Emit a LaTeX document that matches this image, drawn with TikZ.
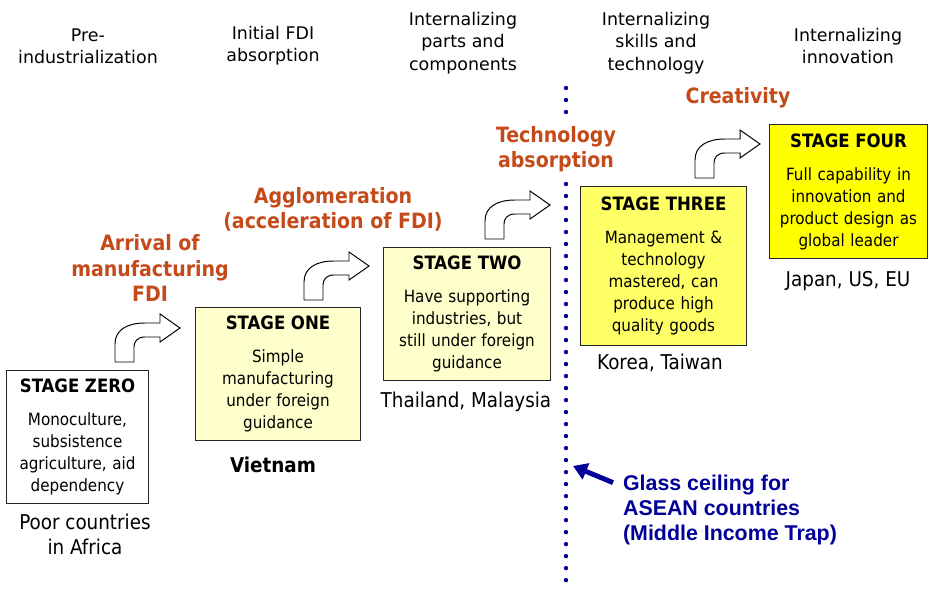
\documentclass[tikz,border=0pt]{standalone}
\usepackage{fontspec}
\usepackage{xcolor}
\setmainfont{DejaVu Sans}
\newfontfamily\tahoma{DejaVu Sans Condensed}
\newfontfamily\arialbold{Liberation Sans}
\usetikzlibrary{positioning, arrows.meta}

\definecolor{driverred}{HTML}{C44A1A}
\definecolor{ceilblue}{HTML}{000099}
\definecolor{paleyellow}{HTML}{FFFFCC}
\definecolor{midyellow}{HTML}{FFFF66}
\definecolor{fullyellow}{HTML}{FFFF00}

\newcommand\stagetitle[1]{{\fontsize{13.1}{15.6}\selectfont\bfseries #1}}

\tikzset{
    stage/.style={draw=black!85, line width=0.7pt, anchor=north west, align=center, inner sep=0pt, font=\tahoma\fontsize{12}{15.6}\selectfont},
    phase/.style={align=center, font=\fontsize{12.4}{15.8}\selectfont},
    driver/.style={align=center, text=driverred, font=\tahoma\bfseries\fontsize{15}{17.9}\selectfont},
    country/.style={align=center, font=\tahoma\fontsize{14.5}{17.7}\selectfont},
    bentarrow/.style={draw=black, fill=white, line width=0.7pt},
    ceilline/.style={draw=ceilblue, line width=0.11cm, dash pattern=on 0pt off 0.3cm, line cap=round},
    ceilarrow/.style={draw=ceilblue, line width=3.5pt, -{Triangle[length=10pt, width=12pt]}},
}

\begin{document}
\begin{tikzpicture}[x=0.025cm, y=-0.025cm]

        \def\bentpath{(0,0) -- (0,-18) .. controls (0,-32) and (12,-39) .. (30,-39) -- (45,-39) -- (45,-48) -- (65,-34) -- (45,-20) -- (45,-25) -- (30,-25) .. controls (22,-25) and (19,-20) .. (19,-15) -- (19,0) -- cycle}

        \useasboundingbox (0,0) rectangle (928,590);

        % phases along the top
        \node[phase] (ph0) at (88,46) {Pre-\\industrialization};
        \node[phase] (ph1) at (273,46) {Initial FDI\\absorption};
        \node[phase] (ph2) at (463,43) {Internalizing\\parts and\\components};
        \node[phase] (ph3) at (656,43) {Internalizing\\skills and\\technology};
        \node[phase] (ph4) at (848,46) {Internalizing\\innovation};

        % glass ceiling
        \coordinate (ceiltop) at (566,88);
        \coordinate (ceilbottom) at (566,592);
        \coordinate (ceiltip) at (573,466);
        \draw[ceilline] (ceiltop) -- (ceilbottom);

        % stages
        \node[stage, fill=white, minimum width=3.55cm, minimum height=3.325cm, text width=3.45cm] (s0) at (6,370)
            {\stagetitle{STAGE ZERO}\\[8pt]Monoculture,\\subsistence\\agriculture, aid\\dependency};
        \node[stage, fill=paleyellow, minimum width=4.125cm, minimum height=3.325cm, text width=3.95cm] (s1) at (195,307)
            {\stagetitle{STAGE ONE}\\[8pt]Simple\\manufacturing\\under foreign\\guidance};
        \node[stage, fill=paleyellow, minimum width=4.175cm, minimum height=3.325cm, text width=4cm] (s2) at (383,247)
            {\stagetitle{STAGE TWO}\\[8pt]Have supporting\\industries, but\\still under foreign\\guidance};
        \node[stage, fill=midyellow, minimum width=4.15cm, minimum height=3.975cm, text width=4cm] (s3) at (580,186)
            {\stagetitle{STAGE THREE}\\[8pt]Management \&\\technology\\mastered, can\\produce high\\quality goods};
        \node[stage, fill=fullyellow, minimum width=3.95cm, minimum height=3.35cm, text width=3.85cm] (s4) at (769,124)
            {\stagetitle{STAGE FOUR}\\[8pt]Full capability in\\innovation and\\product design as\\global leader};

        % countries
        \node[country] (c0) at (85,534) {Poor countries\\in Africa};
        \node[country, font=\tahoma\bfseries\fontsize{14.5}{17.7}\selectfont] (c1) at (273,465) {Vietnam};
        \node[country] (c2) at (466,402) {Thailand, Malaysia};
        \node[country] (c3) at (660,363) {Korea, Taiwan};
        \node[country] (c4) at (848,281) {Japan, US, EU};

        % steps up
        \draw[bentarrow, shift={(115,362)}] \bentpath;
        \draw[bentarrow, shift={(304,300)}] \bentpath;
        \draw[bentarrow, shift={(485,239)}] \bentpath;
        \draw[bentarrow, shift={(695,178)}] \bentpath;

        \node[driver] (d1) at (150,268) {Arrival of\\manufacturing\\FDI};
        \node[driver] (d2) at (333,209) {Agglomeration\\(acceleration of FDI)};
        \node[driver, fill=white, inner ysep=6pt] (d3) at (556,149) {Technology\\absorption};
        \node[driver] (d4) at (738,98) {Creativity};

        \node[anchor=west, align=left, text=ceilblue, inner sep=2pt, font=\arialbold\bfseries\fontsize{15.2}{18}\selectfont] (glass) at (620,510)
            {Glass ceiling for\\ASEAN countries\\(Middle Income Trap)};
        \draw[ceilarrow] ([shift={(-7,11)}]glass.north west) -- (ceiltip);

\end{tikzpicture}
\end{document}
